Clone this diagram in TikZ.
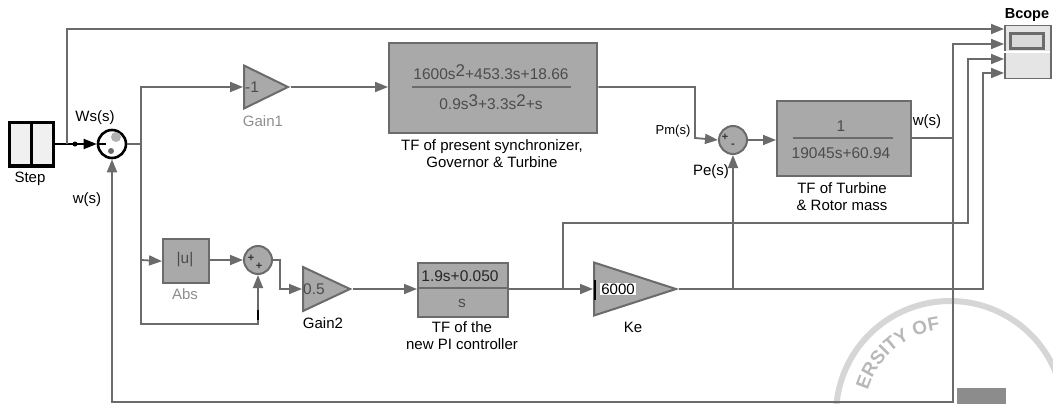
\documentclass[tikz,border=0pt]{standalone}
\usepackage{fontspec}
\setmainfont{Liberation Sans}
\usetikzlibrary{positioning, arrows.meta, calc, shapes.geometric, decorations.text}
\definecolor{wirecol}{HTML}{6B6B6B}
\definecolor{blockcol}{HTML}{A9A9A9}
\definecolor{labelcol}{HTML}{8E8E8E}
\newcommand{\rsup}[1]{\raisebox{3.5pt}{\fontsize{17}{17}\selectfont #1}}
\tikzset{
	wire/.style={draw=wirecol, line width=1.8pt},
	feed/.style={wire, -{Triangle[length=13pt, width=10pt]}, shorten >=0pt},
	blockbox/.style={draw=wirecol, fill=blockcol, line width=2.4pt, inner sep=0pt, anchor=north west},
	sumblock/.style={circle, draw=wirecol, fill=blockcol, line width=2pt, minimum size=28pt, inner sep=0pt},
	gainblock/.style={isosceles triangle, isosceles triangle stretches, shape border rotate=0, draw=wirecol, fill=blockcol, line width=2pt, inner sep=0pt, anchor=lower side},
	caption/.style={font=\fontsize{15}{17}\selectfont, align=center},
	greycaption/.style={caption, text=labelcol},
	blocktext/.style={font=\fontsize{15.5}{17}\selectfont, text=black!70},
	fracbar/.style={draw=wirecol, line width=2.4pt},
	signtext/.style={font=\fontsize{11}{11}\selectfont\bfseries, text=black!80, inner sep=0pt}
}
\begin{document}
\begin{tikzpicture}[x=1pt, y=-1pt]
	\useasboundingbox (0,0) rectangle (1053,404);

	% stamp behind everything
	\begin{scope}
		\clip (0,0) rectangle (1053,404);
		\draw[black!16, line width=6pt] (950,415) circle (114);
		\path[postaction={decorate, decoration={text along path, text align=center, text={|\fontsize{19}{19}\selectfont\bfseries\color{black!28}|ERSITY OF}}}] (865,403) arc[start angle=-172, end angle=-88, radius=86];
		\fill[black!45] (957,388) rectangle (1006,404);
	\end{scope}

	\node[draw=black, fill=black!6, line width=2.2pt, minimum width=44pt, minimum height=43pt, inner sep=0pt] (step) at (31.5,144) {};
	\draw[black, line width=2.2pt] (step.north) -- (step.south);
	\draw[black, line width=2.4pt] (step.south west) -- (step.south east);
	\node[caption] (steplabel) at (30,179) {Step};

	\node[sumblock, draw=black, fill=white, line width=2.6pt] (sum1) at (112,144) {};
	\fill[black!30] (116,137) circle (5);
	\fill[wirecol] (111,151) circle (3);
	\draw[black, line width=1.5pt] (sum1.west) -- ++(9,0);
	\node[caption] (wslabel) at (95,118) {Ws(s)};
	\node[caption] (wlabel) at (87,200) {w(s)};

	\node[gainblock, minimum width=43pt, minimum height=44pt] (gain1) at (243,87) {};
	\node[blocktext] (gain1val) at (252,87) {-1};
	\node[greycaption] (gain1label) at (263,121) {Gain1};

	\node[blockbox, minimum width=208pt, minimum height=90pt] (gov) at (388,42) {};
	\node[blocktext] (govnum) at (491,72) {1600s\rsup{2}+453.3s+18.66};
	\node[blocktext] (govden) at (491,102) {0.9s\rsup{3}+3.3s\rsup{2}+s};
	\draw[fracbar] (412,87) -- (571,87);
	\node[caption] (govlabel) at (492,154) {TF of present synchronizer,\\Governor \& Turbine};

	\node[sumblock] (sum3) at (733,140) {};
	\node[signtext] (sum3p) at (725,137) {+};
	\node[signtext] (sum3m) at (733,146) {-};
	\node[caption, font=\fontsize{13}{15}\selectfont] (pmlabel) at (673,131) {Pm(s)};
	\node[caption] (pelabel) at (711,172) {Pe(s)};

	\node[blockbox, minimum width=134pt, minimum height=75pt] (rotor) at (776,100) {};
	\node[blocktext] (rotornum) at (841,126) {1};
	\node[blocktext] (rotorden) at (841,153) {19045s+60.94};
	\draw[fracbar] (793,138) -- (893,138);
	\node[caption] (rotorlabel) at (842,197) {TF of Turbine\\\& Rotor mass};
	\node[caption] (wslabel2) at (927,122) {w(s)};

	\node[blockbox, minimum width=46pt, minimum height=44pt] (abs) at (162,238) {};
	\node[blocktext] (absval) at (185,260) {|u|};
	\node[greycaption] (abslabel) at (185,294) {Abs};

	\node[sumblock] (sum2) at (258,260) {};
	\node[signtext] (sum2a) at (251,258) {+};
	\node[signtext] (sum2b) at (259,266) {+};

	\node[gainblock, minimum width=44pt, minimum height=47pt] (gain2) at (302,289) {};
	\node[blocktext] (gain2val) at (314,289) {0.5};
	\node[caption] (gain2label) at (323,323) {Gain2};

	\node[blockbox, minimum width=90pt, minimum height=54pt] (pi) at (417,262) {};
	\node[blocktext, inner sep=0pt, text=black!85] (pinum) at (460,276) {1.9s+0.050};
	\node[blocktext] (piden) at (462,303) {s};
	\draw[fracbar] (pi.west |- 0,288) -- (pi.east |- 0,288);
	\node[caption] (pilabel) at (462,336) {TF of the\\new PI controller};

	\node[gainblock, minimum width=53pt, minimum height=82pt] (ke) at (593,289) {};
	\node[fill=white, inner sep=1pt, font=\fontsize{15}{15}\selectfont] (keval) at (618,289) {6000};
	\node[caption] (kelabel) at (633,327) {Ke};

	\node[draw=wirecol, fill=black!10, line width=1.5pt, minimum width=46pt, minimum height=53pt, inner sep=0pt, anchor=north west] (scope) at (1004,25) {};
	\node[draw=wirecol, fill=black!15, line width=2.4pt, minimum width=33pt, minimum height=15pt, inner sep=0pt] (screen) at (1027,41) {};
	\draw[white, line width=1.5pt] (1004,52) -- (1050,52);
	\node[caption, font=\fontsize{14.5}{15}\selectfont\bfseries] (scopelabel) at (1027,15) {Bcope};

	\coordinate (topbranch) at (67,144);
	\coordinate (mainbranch) at (141,144);
	\coordinate (absbranch) at (141,260);
	\coordinate (pibranch) at (563,289);
	\coordinate (kebranch) at (733,289);
	\coordinate (wbranch) at (953,138);

	\draw[wire, black, line width=1.6pt] (step.east |- sum1) -- (topbranch);
	\draw[feed, draw=black] (topbranch) -- (sum1.west);
	\fill[black] (75,144) circle (2.5);
	\draw[feed] (topbranch) |- (1004,29);
	\draw[wire] (sum1.east) -- (mainbranch);
	\draw[feed] (mainbranch) |- (gain1.lower side);
	\draw[feed] (mainbranch) -- (absbranch) -- (abs.west);
	\draw[feed] (absbranch) |- (258,324) -- (sum2.south);
	\draw[black, line width=1.6pt] (258,310) -- (258,320);
	\draw[feed] (abs.east |- sum2) -- (sum2.west);
	\draw[feed] (sum2.east) -- (280,260) |- (gain2.lower side);
	\draw[feed] (gain2.apex) -- (pi.west |- gain2);
	\draw[feed] (pi.east |- pibranch) -- (ke.lower side);
	\draw[feed] (gain1.apex) -- (gov.west |- gain1);
	\draw[feed] (gov.east |- gain1) -| (695,138) -- (sum3.west);
	\draw[feed] (sum3.east) -- (rotor.west |- sum3);
	\draw[wire] (rotor.east |- wbranch) -- (wbranch);
	\draw[feed] (wbranch) |- (1004,44);
	\draw[feed] (wbranch) -- (953,402) -| (sum1.south);
	\draw[feed] (pibranch) |- (968,223) |- (1004,59);
	\draw[feed] (ke.apex) -- (983,289) |- (1004,73);
	\draw[feed] (kebranch) -- (sum3.south);
	\draw[black, line width=2.2pt] (595,280) -- (595,300);
\end{tikzpicture}
\end{document}
